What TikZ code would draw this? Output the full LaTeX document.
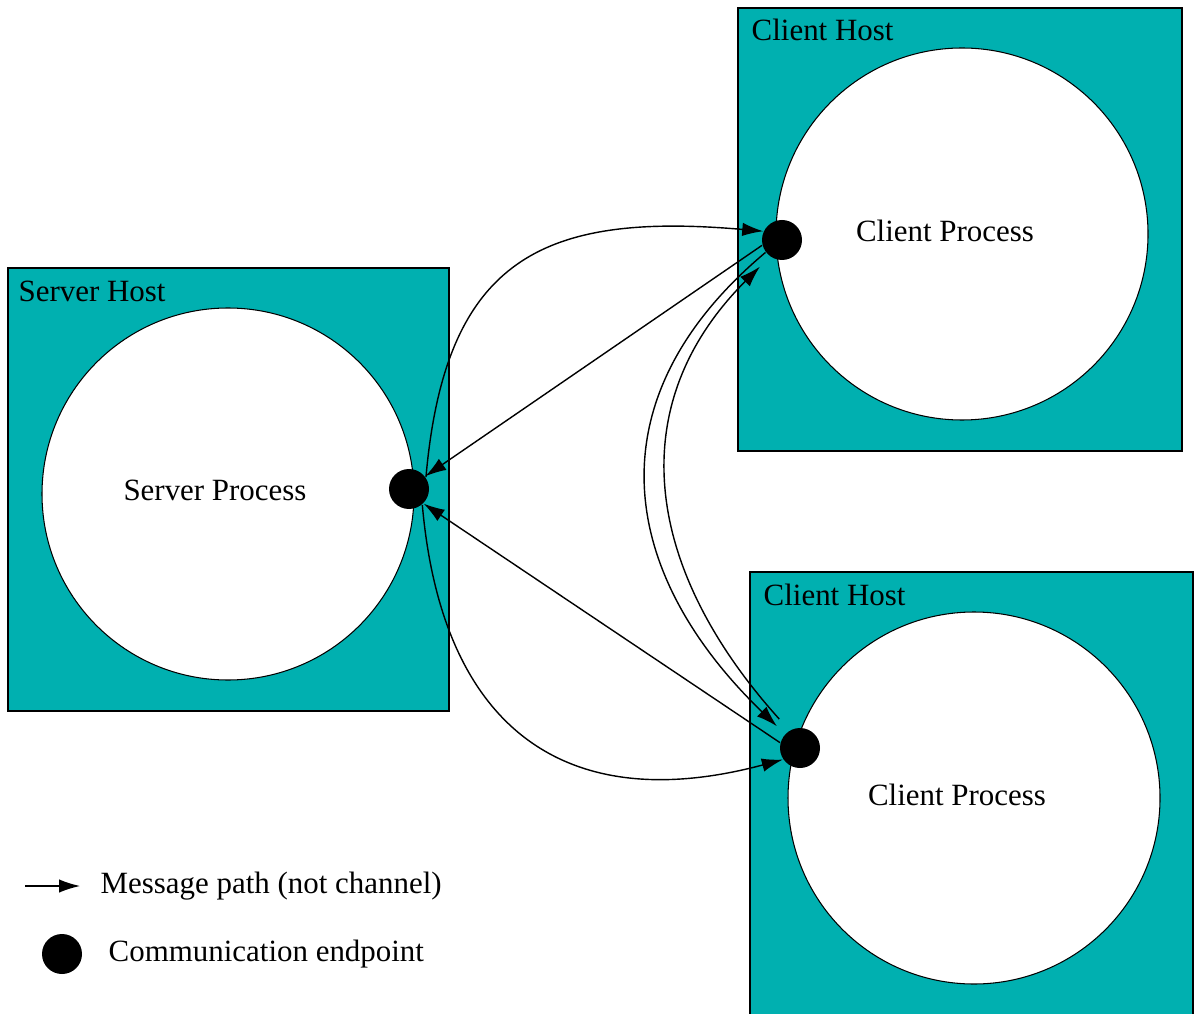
\documentclass[tikz,border=0pt]{standalone}
\usepackage{fontspec}
\setmainfont{Liberation Serif}
\usetikzlibrary{arrows.meta}
\definecolor{hostteal}{RGB}{0,176,176}
\tikzset{
  host/.style={draw, line width=0.5pt, fill=hostteal, inner sep=0pt},
  process/.style={circle, draw, line width=0.3pt, fill=white, minimum size=3.72cm, inner sep=0pt},
  endpt/.style={circle, fill=black, minimum size=0.4cm, inner sep=0pt},
  hostlabel/.style={anchor=north west, inner sep=0pt},
  msg/.style={-{Latex[length=2.1mm,width=1.35mm]}, line width=0.4pt}
}
\begin{document}
\begin{tikzpicture}[font=\fontsize{8.8pt}{10pt}\selectfont]
\useasboundingbox (0,0) rectangle (11.99,10.13);
\node (shost) [host, minimum width=4.41cm, minimum height=4.43cm] at (2.285,5.235) {};
\node (thost) [host, minimum width=4.44cm, minimum height=4.43cm] at (9.60,7.835) {};
\node (bhost) [host, minimum width=4.43cm, minimum height=4.48cm] at (9.715,2.17) {};
\node (shostlbl) [hostlabel] at (0.18,10.13-2.80) {Server Host};
\node (thostlbl) [hostlabel] at (7.51,10.13-0.18) {Client Host};
\node (bhostlbl) [hostlabel] at (7.63,10.13-5.83) {Client Host};
\node (sproc) [process] at (2.28,5.19) {};
\node (tproc) [process] at (9.62,7.79) {};
\node (bproc) [process] at (9.74,2.15) {};
\node (sproclbl) at (2.15,5.23) {Server Process};
\node (tproclbl) at (9.45,7.82) {Client Process};
\node (bproclbl) at (9.57,2.18) {Client Process};
\node (se) [endpt] at (4.09,5.24) {};
\node (te) [endpt] at (7.82,7.73) {};
\node (be) [endpt] at (8.00,2.65) {};
\draw [msg] (se.35) to[out=85, in=175, looseness=1.35] (te.155);
\draw [msg] (te.195) -- (se.38);
\draw [msg] (be.165) -- (se.-45);
\draw [msg] (se.-50) to[out=-85, in=195, looseness=1.3] (be.-146);
\draw [msg, shorten >=1.1mm] (te.217) to[out=220, in=136, looseness=1.22] (be.137);
\draw [msg, shorten <=1.5mm, shorten >=1.4mm] (be.121) to[out=132, in=225, looseness=1.15] (te.234);
\coordinate (legtail) at (0.25,1.27);
\coordinate (leghead) at (0.80,1.27);
\draw [msg] (legtail) -- (leghead);
\node (legmsg) [anchor=west, inner sep=0pt] at (1.00,1.27) {Message path (not channel)};
\node (legdot) [endpt] at (0.62,0.59) {};
\node (legend) [anchor=west, inner sep=0pt] at (1.08,0.59) {Communication endpoint};
\end{tikzpicture}
\end{document}
